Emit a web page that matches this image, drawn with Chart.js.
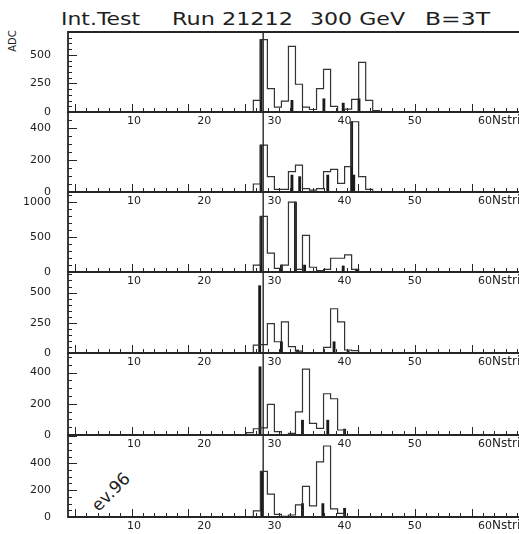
<!DOCTYPE html>
<html>
<head>
<meta charset="utf-8">
<script src="https://cdn.jsdelivr.net/npm/chart.js@4.4.1/dist/chart.umd.min.js"></script>
<style>
  html, body { margin: 0; padding: 0; background: #fff; }
  body { width: 519px; height: 534px; overflow: hidden; position: relative;
         font-family: "DejaVu Sans", sans-serif; color: #1e1e1e; }
  canvas { position: absolute; left: 0; }
  .txt { position: absolute; white-space: nowrap; line-height: 1; }
  .ttl { font-size: 17px; top: 10.6px; transform-origin: 0 0; }
</style>
</head>
<body>
<span class="txt ttl" data-w="79" style="left:61px">Int.Test</span>
<span class="txt ttl" data-w="121" style="left:172px">Run 21212</span>
<span class="txt ttl" data-w="95" style="left:310px">300 GeV</span>
<span class="txt ttl" data-w="65" style="left:425px">B=3T</span>
<div class="txt" style="left:12.5px; top:41px; font-size:10px; transform:translate(-50%,-50%) rotate(-90deg)">ADC</div>
<div class="txt" style="left:111px; top:492px; font-size:17px; transform:translate(-50%,-50%) rotate(-45deg)">ev.96</div>

<script>
// strip bins [n, n+1), everything outside 25..45 is empty
const strips = [25, 26, 27, 28, 29, 30, 31, 32, 33, 34, 35, 36, 37, 38, 39, 40, 41, 42, 43, 44, 45];

const adc1 = [0, 0, 102, 633, 205, 43, 96, 574, 243, 43, 22, 205, 373, 49, 4, 25, 110, 435, 102, 13, 0];
const adc2 = [0, 0, 50, 293, 96, 17, 17, 127, 168, 21, 12, 21, 127, 141, 54, 158, 439, 96, 17, 0, 0];
const adc3 = [0, 0, 100, 800, 270, 53, 100, 1005, 39, 526, 68, 19, 39, 198, 198, 246, 39, 0, 0, 0, 0];
const adc4 = [0, 0, 65, 70, 243, 93, 257, 52, 16, 0, 0, 0, 46, 366, 257, 25, 19, 0, 0, 0, 0];
const adc5 = [0, 15, 40, 45, 196, 21, 3, 10, 148, 422, 74, 42, 264, 232, 32, 0, 0, 0, 0, 0, 0];
const adc6 = [0, 0, 45, 340, 170, 20, 5, 15, 90, 228, 83, 410, 528, 60, 27, 0, 0, 0, 0, 0, 0];

// single-strip hits drawn as narrow spikes
const hitStrip1 = [28.1, 32.5, 37.05, 39.8, 42.05];
const hitAdc1 = [633, 102, 116, 78, 116];
const hitStrip2 = [28.1, 32.5, 33.6, 37.6, 41.0, 41.3];
const hitAdc2 = [293, 106, 96, 106, 439, 106];
const hitStrip3 = [28.1, 31.0, 33.0, 34.3, 39.8, 41.7];
const hitAdc3 = [800, 100, 1005, 100, 87, 40];
const hitStrip4 = [27.9, 31.0, 33.3, 38.5, 40.5];
const hitAdc4 = [557, 93, 25, 93, 20];
const hitStrip5 = [27.95, 34.0, 37.6, 40.0];
const hitAdc5 = [437, 95, 95, 38];
const hitStrip6 = [28.2, 34.0, 36.9, 40.0];
const hitAdc6 = [340, 100, 100, 65];

const yMax = [700, 500, 1150, 670, 525, 610];
const yTicks = [[0, 250, 500], [0, 200, 400], [0, 500, 1000], [0, 250, 500], [0, 200, 400], [0, 200, 400]];
const yMinorStep = [50, 50, 100, 50, 50, 50];
const xLabels = [10, 20, 30, 40, 50, 60];
const markerStrip = 28.4;

const outlines = [adc1, adc2, adc3, adc4, adc5, adc6];
const hitStrips = [hitStrip1, hitStrip2, hitStrip3, hitStrip4, hitStrip5, hitStrip6];
const hitAdcs = [hitAdc1, hitAdc2, hitAdc3, hitAdc4, hitAdc5, hitAdc6];

// page layout of the six frames
const panelTop = [32, 112, 192, 272, 353, 435];
const panelBottom = [112, 192, 272, 353, 435, 517];
const padTop = 26, axisH = 26, axisW = 68;

Chart.defaults.font.family = '"DejaVu Sans", sans-serif';
Chart.defaults.color = '#1e1e1e';

// frame, inward ticks, the marker line and the cut off axis title
const framePlugin = {
  id: 'frame',
  afterDraw(chart, args, opts) {
    const { ctx, chartArea: a, scales: { x, y } } = chart;
    const seg = (x0, y0, x1, y1) => { ctx.beginPath(); ctx.moveTo(x0, y0); ctx.lineTo(x1, y1); ctx.stroke(); };
    ctx.save();
    ctx.strokeStyle = '#262626';
    ctx.lineWidth = 1;
    for (let v = 0; v < y.max; v += opts.minor) {
      const py = Math.round(y.getPixelForValue(v)) + 0.5;
      seg(a.left, py, a.left + (v % opts.major === 0 ? 9 : 4), py);
    }
    for (let i = 0; ; i++) {
      const v = 1.59 + i * 1.615;
      if (v > x.max) break;
      const px = Math.round(x.getPixelForValue(v)) + 0.5;
      seg(px, a.bottom, px, a.bottom - (i % 5 === 0 ? 8 : 4));
    }
    ctx.lineWidth = 1.4;
    const mx = x.getPixelForValue(markerStrip);
    seg(mx, a.top, mx, a.bottom);
    ctx.lineWidth = 1.8;
    ctx.beginPath();
    ctx.moveTo(a.right + 2, a.top);
    ctx.lineTo(a.left, a.top);
    ctx.lineTo(a.left, a.bottom);
    ctx.lineTo(a.right + 2, a.bottom);
    ctx.stroke();
    ctx.fillStyle = '#1e1e1e';
    ctx.font = '12px "DejaVu Sans"';
    ctx.textBaseline = 'top';
    ctx.fillText('Nstrip', x.getPixelForValue(60) + 7, a.bottom + 3);
    ctx.restore();
  }
};

function makePanel(k) {
  const h = panelBottom[k] - panelTop[k];
  const canvas = document.createElement('canvas');
  canvas.width = 519;
  canvas.height = padTop + h + axisH;
  canvas.style.top = (panelTop[k] - padTop) + 'px';
  document.body.appendChild(canvas);

  new Chart(canvas.getContext('2d'), {
    type: 'line',
    data: {
      datasets: [
        {
          type: 'line',
          data: strips.map((s, i) => ({ x: s + 0.5, y: outlines[k][i] })),
          stepped: 'middle',
          borderColor: '#333',
          borderWidth: 1.2,
          pointRadius: 0,
          fill: false
        },
        {
          type: 'bar',
          data: hitStrips[k].map((s, i) => ({ x: s, y: hitAdcs[k][i] })),
          backgroundColor: '#1a1a1a',
          barThickness: 2.2
        }
      ]
    },
    options: {
      responsive: false,
      animation: false,
      events: [],
      layout: { padding: { top: padTop, left: 0, right: 0, bottom: 0 } },
      plugins: {
        legend: { display: false },
        tooltip: { enabled: false },
        frame: { major: yTicks[k][1], minor: yMinorStep[k] }
      },
      scales: {
        x: {
          type: 'linear',
          min: 0.6,
          max: 64.84,
          offset: false,
          afterBuildTicks: s => { s.ticks = xLabels.map(v => ({ value: v })); },
          afterFit: s => { s.height = axisH; },
          grid: { display: false, drawTicks: false },
          border: { display: false },
          ticks: { font: { size: 11 }, padding: 3, maxRotation: 0, autoSkip: false, callback: v => String(v) }
        },
        y: {
          min: 0,
          max: yMax[k],
          afterBuildTicks: s => { s.ticks = yTicks[k].map(v => ({ value: v })); },
          afterFit: s => { s.width = axisW; },
          grid: { display: false, drawTicks: false },
          border: { display: false },
          ticks: { font: { size: 11 }, padding: 17, callback: v => String(v) }
        }
      }
    },
    plugins: [framePlugin]
  });
}

for (let k = 0; k < 6; k++) makePanel(k);

// stretch the title words to the widths they take in the original
document.querySelectorAll('.ttl').forEach(el => {
  const w = el.getBoundingClientRect().width;
  el.style.transform = 'scaleX(' + (el.dataset.w / w) + ')';
});
</script>
</body>
</html>
